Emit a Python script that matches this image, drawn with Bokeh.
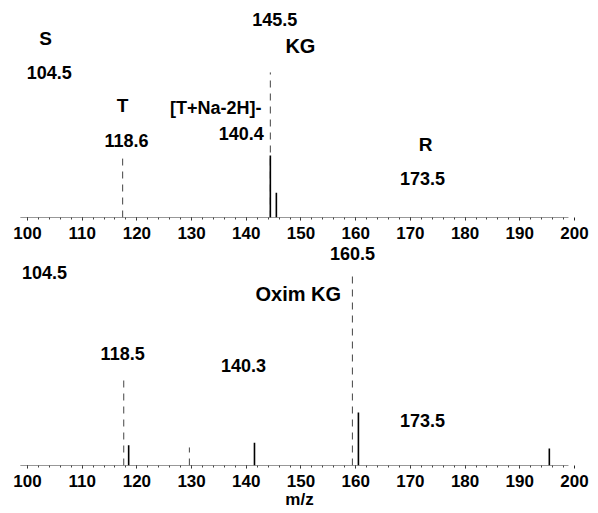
from bokeh.plotting import figure
from bokeh.layouts import column
from bokeh.models import Range1d, ColumnDataSource, FixedTicker
from bokeh.core.properties import value
from bokeh.embed import file_html
from bokeh.resources import INLINE

# ---------------- data ----------------
mz_ticks = [100, 110, 120, 130, 140, 150, 160, 170, 180, 190, 200]
scan_range = [98.7, 198.9]

# top spectrum (relative intensity)
top_peak_mz = [144.4, 145.5]
top_peak_int = [100, 40]
top_guide_mz = [117.4, 144.4]
top_guide_top = [95, 234]
top_lab_text = ["S", "104.5", "T", "118.6", "[T+Na-2H]-", "140.4", "145.5", "KG", "R", "173.5"]
top_lab_mz = [103.3, 104.0, 117.4, 118.1, 134.4, 139.1, 145.2, 149.9, 172.8, 172.2]
top_lab_int = [289, 234, 181, 124, 177, 135, 319, 277, 118, 63]
top_lab_size = ["19px", "18px", "19px", "18px", "18px", "18px", "18px", "20px", "19px", "18px"]

# bottom spectrum (relative intensity)
bot_peak_mz = [118.5, 141.5, 160.5, 195.4]
bot_peak_int = [38, 43, 100, 32]
bot_guide_mz = [117.6, 129.6, 159.4]
bot_guide_top = [170, 34, 362]
bot_lab_text = ["104.5", "Oxim KG", "160.5", "118.5", "140.3", "173.5"]
bot_lab_mz = [103.1, 149.5, 159.4, 117.4, 139.5, 172.2]
bot_lab_int = [364, 323, 400, 211, 189, 85]
bot_lab_size = ["18px", "20px", "18px", "18px", "18px", "18px"]

x_title = "m/z"

FONT = "Liberation Sans"


def make_panel(height, border_bottom, ymax, peaks, guides, labels, standoff, xlabel=None):
    p = figure(width=598, height=height, x_range=Range1d(96.9, 202.56), y_range=Range1d(0, ymax),
               output_backend="svg", toolbar_location=None, y_axis_location=None,
               min_border_left=10, min_border_right=10, min_border_top=0,
               min_border_bottom=border_bottom)
    p.xgrid.visible = False
    p.ygrid.visible = False
    p.outline_line_color = None
    p.background_fill_color = "white"
    p.border_fill_color = "white"

    ax = p.xaxis[0]
    ax.ticker = FixedTicker(ticks=mz_ticks, minor_ticks=[v for v in range(100, 200, 2)])
    ax.axis_line_color = None
    ax.major_tick_in = 0
    ax.major_tick_out = 3
    ax.minor_tick_in = 0
    ax.minor_tick_out = 2
    ax.major_tick_line_color = "#222"
    ax.minor_tick_line_color = "#444"
    ax.major_label_text_font = FONT
    ax.major_label_text_font_style = "bold"
    ax.major_label_text_font_size = "17px"
    ax.major_label_text_color = "black"
    ax.major_label_standoff = standoff
    if xlabel:
        ax.axis_label = xlabel
        ax.axis_label_text_font = FONT
        ax.axis_label_text_font_style = "bold"
        ax.axis_label_text_font_size = "17px"
        ax.axis_label_text_color = "black"
        ax.axis_label_standoff = 0

    # baseline of the spectrum
    p.line(x=scan_range, y=[0, 0], line_color="#333", line_width=1)

    gmz, gtop = guides
    p.segment(x0=gmz, y0=[0] * len(gmz), x1=gmz, y1=gtop, line_color="#444",
              line_width=1, line_dash="7 6")

    pmz, pint = peaks
    p.segment(x0=pmz, y0=[0] * len(pmz), x1=pmz, y1=pint, line_color="black", line_width=1.6)

    txt, lx, ly, ls = labels
    src = ColumnDataSource(dict(x=lx, y=ly, t=txt, s=ls))
    p.text(x="x", y="y", text="t", source=src, text_font=value(FONT), text_font_style="bold",
           text_font_size="s", text_align="center", text_baseline="middle", text_color="black")
    return p


p1 = make_panel(245, 28, 350, (top_peak_mz, top_peak_int), (top_guide_mz, top_guide_top),
                (top_lab_text, top_lab_mz, top_lab_int, top_lab_size), 6)
p2 = make_panel(268, 48, 415, (bot_peak_mz, bot_peak_int), (bot_guide_mz, bot_guide_top),
                (bot_lab_text, bot_lab_mz, bot_lab_int, bot_lab_size), 6, xlabel=x_title)

layout = column(p1, p2, spacing=0)
open("out.html", "w").write(file_html(layout, INLINE))
